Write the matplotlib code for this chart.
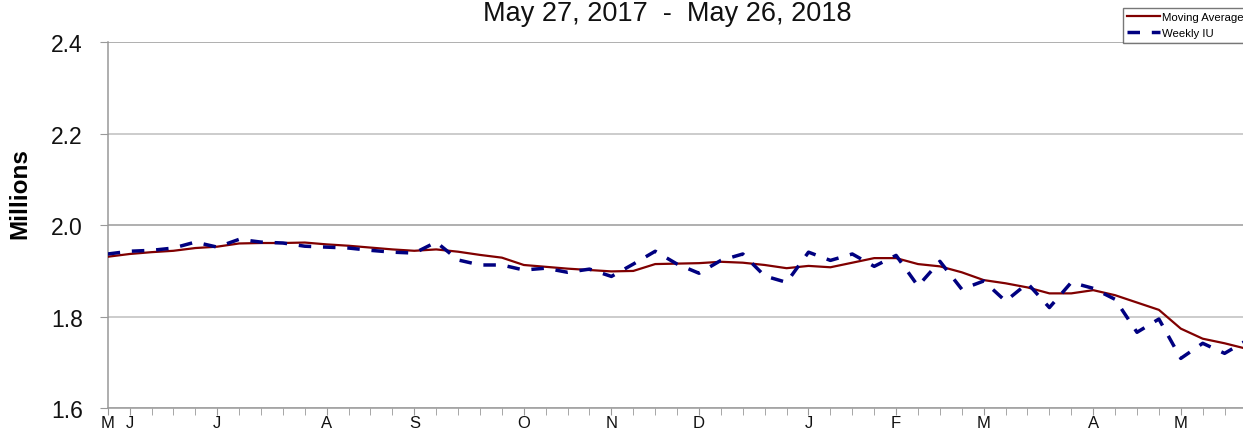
import matplotlib
matplotlib.use("Agg")
import matplotlib.pyplot as plt
import numpy as np

# ---- data (millions), one point per week starting May 27, 2017 ----
weeks = list(range(53))
weekly_iu = [1.937, 1.943, 1.945, 1.950, 1.963, 1.952, 1.969, 1.963, 1.961, 1.954,
             1.952, 1.950, 1.945, 1.941, 1.939, 1.963, 1.924, 1.913, 1.913, 1.902,
             1.906, 1.897, 1.904, 1.888, 1.915, 1.943, 1.915, 1.895, 1.923, 1.937,
             1.889, 1.875, 1.941, 1.923, 1.937, 1.910, 1.934, 1.867, 1.921, 1.860,
             1.878, 1.834, 1.873, 1.820, 1.875, 1.862, 1.838, 1.766, 1.795, 1.709,
             1.742, 1.720, 1.748]
moving_avg = [1.931, 1.937, 1.941, 1.944, 1.950, 1.953, 1.960, 1.961, 1.961, 1.962,
              1.958, 1.955, 1.951, 1.947, 1.944, 1.947, 1.942, 1.935, 1.929, 1.913,
              1.909, 1.905, 1.902, 1.899, 1.900, 1.915, 1.916, 1.917, 1.920, 1.918,
              1.913, 1.906, 1.911, 1.908, 1.918, 1.928, 1.928, 1.915, 1.910, 1.897,
              1.880, 1.873, 1.864, 1.851, 1.851, 1.858, 1.847, 1.831, 1.815, 1.774,
              1.752, 1.742, 1.730]
month_tick_weeks = [0, 1, 5, 10, 14, 19, 23, 27, 32, 36, 40, 45, 49]
month_labels = ["M", "J", "J", "A", "S", "O", "N", "D", "J", "F", "M", "A", "M"]
y_ticks = [1.6, 1.8, 2.0, 2.2, 2.4]
title = "May 27, 2017  -  May 26, 2018"

plt.rcParams['font.family'] = ['Liberation Sans', 'DejaVu Sans']

W, H = 1243, 431
fig = plt.figure(figsize=(W / 100, H / 100), dpi=100)
left_px, right_px, top_px, bot_px = 107.7, 107.7 + 52 * 21.9, 43, 409.3
ax = fig.add_axes([left_px / W, 1 - bot_px / H, (right_px - left_px) / W, (bot_px - top_px) / H])

ax.plot(weeks, moving_avg, color='#800000', lw=1.6, label='Moving Average', zorder=3)
ax.plot(weeks, weekly_iu, color='#000080', lw=2.5, linestyle=(0, (3.6, 3.4)),
        dash_capstyle='butt', label='Weekly IU', zorder=4)

ax.set_xlim(0, 52)
ax.set_ylim(1.6, 2.4)
ax.set_yticks(y_ticks)
ax.set_yticklabels([f"{v:.1f}" for v in y_ticks], fontsize=16.5, color='#111111')
ax.set_xticks(month_tick_weeks)
ax.set_xticklabels(month_labels, fontsize=12, color='#111111')
ax.set_xticks(weeks, minor=True)
ax.tick_params(axis='x', which='both', direction='out', length=5, color='#999999', pad=0)
ax.tick_params(axis='y', direction='out', length=6, color='#999999', pad=12)

ax.yaxis.grid(True, color='#c8c8c8', lw=1.3)
for gl, v in zip(ax.get_ygridlines(), y_ticks):
    if abs(v - 2.0) < 1e-9 or abs(v - 2.4) < 1e-9:
        gl.set_color('#9a9a9a')
        gl.set_linewidth(1.1)
ax.set_axisbelow(True)

for side in ['left', 'bottom']:
    ax.spines[side].set_color('#999999')
    ax.spines[side].set_linewidth(1.1)
ax.spines['top'].set_visible(False)
ax.spines['right'].set_visible(False)

ax.set_ylabel('Millions', fontsize=17.5, fontweight='bold')
ax.yaxis.set_label_coords(-(107.7 - 31) / (right_px - left_px), (409.3 - 194) / (409.3 - 43))

fig.text(667 / W, 1 - 14 / H, title, ha='center', va='center', fontsize=19.5, color='#111111')

leg = ax.legend(loc='lower left', bbox_to_anchor=(1122.7 / W, 1 - 43.5 / H, 0.2, 0.1),
                bbox_transform=fig.transFigure, fontsize=8.2, frameon=True, fancybox=False,
                borderpad=0.4, handlelength=2.9, handletextpad=0.15, labelspacing=0.5,
                borderaxespad=0)
leg.get_frame().set_edgecolor('#555555')
leg.get_frame().set_linewidth(1.0)

fig.savefig('out.png', dpi=100)
